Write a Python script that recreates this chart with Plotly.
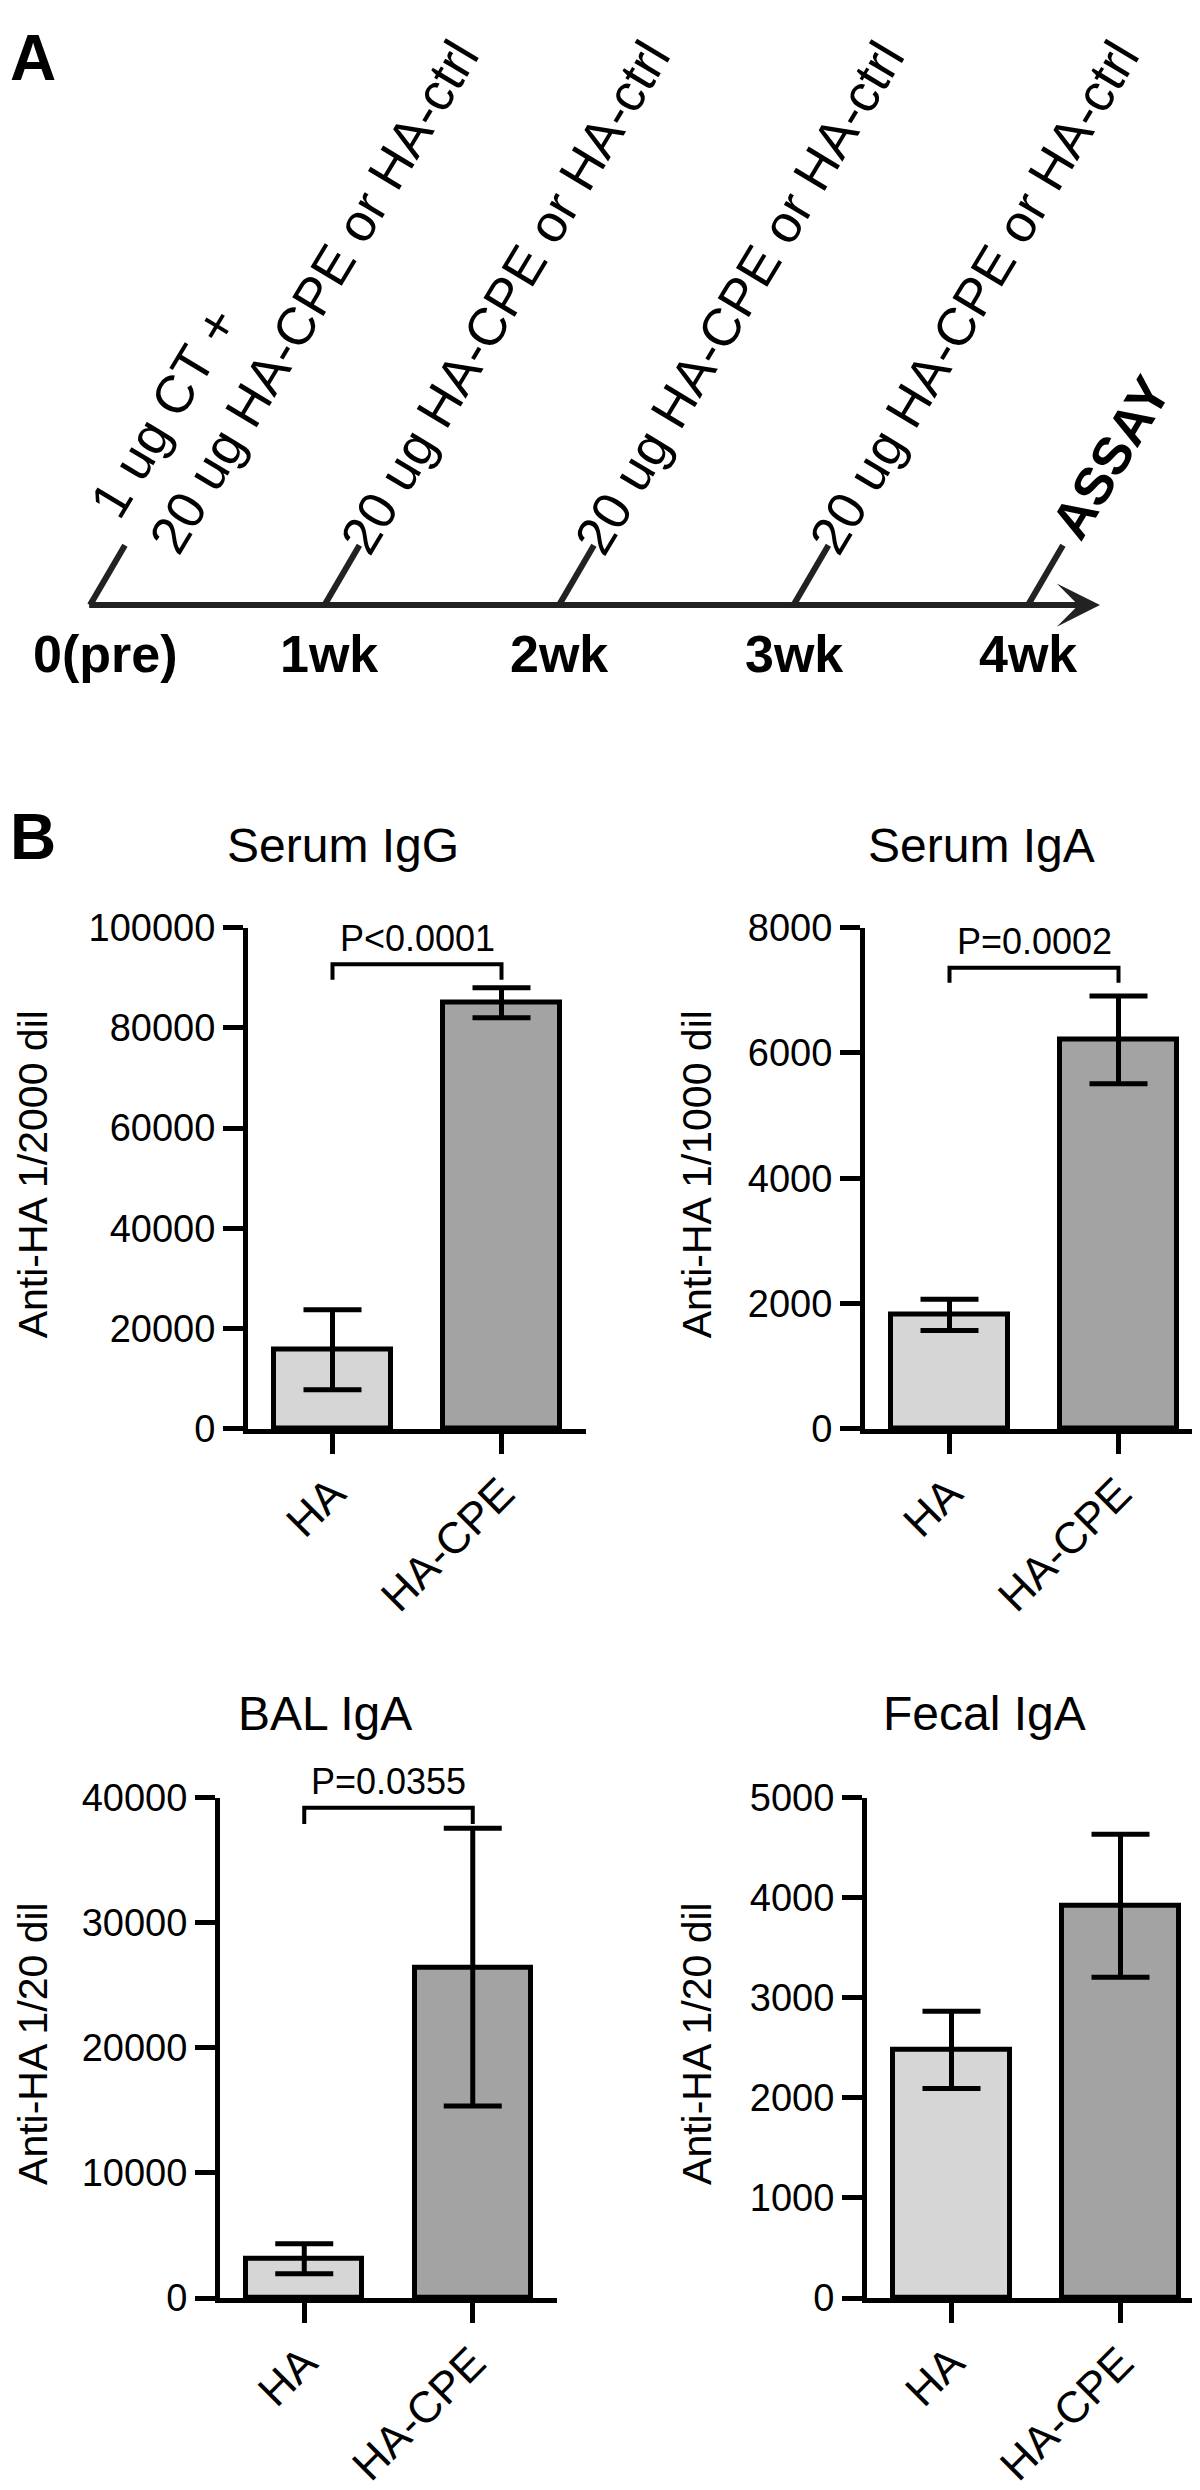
import plotly.graph_objects as go

W, H = 1200, 2490
FONT = "Liberation Sans, Arial, sans-serif"
NARROW = "Liberation Sans Narrow, Arial Narrow, Liberation Sans, Arial, sans-serif"

# ---- panel A: immunisation schedule ----
weeks = ["0(pre)", "1wk", "2wk", "3wk", "4wk"]
doses = ["1 ug CT +<br>20 ug HA-CPE or HA-ctrl",
         "20 ug HA-CPE or HA-ctrl",
         "20 ug HA-CPE or HA-ctrl",
         "20 ug HA-CPE or HA-ctrl",
         "<b>ASSAY</b>"]

# ---- panel B: anti-HA titres (mean, SEM) ----
groups = ["HA", "HA-CPE"]
serum_igg = [15800, 85000]
serum_igg_err = [8000, 3000]
serum_iga = [1820, 6210]
serum_iga_err = [250, 700]
bal_iga = [3150, 26450]
bal_iga_err = [1200, 11100]
fecal_iga = [2480, 3920]
fecal_iga_err = [385, 715]
p_values = ["P<0.0001", "P=0.0002", "P=0.0355", None]
bracket_top = [92700, 7360, 39200, None]
bracket_leg = [89600, 7120, 37900, None]

bar_colors = ["#d6d6d6", "#a3a3a3"]


def fx(px):
    return px / W


def fy(py):
    return 1 - py / H


fig = go.Figure()
annotations = []

# timeline axis (x = week, y = pixels above the line)
AXIS_Y = 586
STEP = 234.5
X0 = 82
fig.update_layout(
    xaxis5=dict(domain=[0, 1], range=[-X0 / STEP, (W - X0) / STEP], visible=False, anchor="y5"),
    yaxis5=dict(domain=[fy(720), 1], range=[-(720 - AXIS_Y), AXIS_Y], visible=False, anchor="x5"),
)

wk = list(range(len(weeks)))
tick_x, tick_y = [], []
for w in wk:
    tick_x += [w, w + 0.149, None]
    tick_y += [0, 61, None]
fig.add_trace(go.Scatter(x=tick_x, y=tick_y, mode="lines", xaxis="x5", yaxis="y5",
                         line=dict(color="#222222", width=6), showlegend=False, hoverinfo="skip"))

# main arrow
annotations.append(dict(x=wk[-1] + 0.307, y=0, ax=wk[0] - 0.01, ay=0, xref="x5", yref="y5",
                        axref="x5", ayref="y5", showarrow=True, arrowhead=3, arrowsize=1.2,
                        arrowwidth=6, arrowcolor="#222222", text=""))

label_shift = [0.065, 0.02, 0, 0, 0]
for w, lab, s in zip(wk, weeks, label_shift):
    annotations.append(dict(x=w + s, y=-50, xref="x5", yref="y5", text="<b>%s</b>" % lab,
                            showarrow=False, xanchor="center", yanchor="middle",
                            font=dict(family=NARROW, size=52, color="black")))

dose_dx = [0.827, 0.768, 0.768, 0.768, 0.352]
dose_dy = [332, 313, 313, 313, 150]
for w, txt, dx, dy in zip(wk, doses, dose_dx, dose_dy):
    annotations.append(dict(x=w + dx, y=dy, xref="x5", yref="y5", text=txt, showarrow=False,
                            textangle=-59, align="left", xanchor="center", yanchor="middle",
                            font=dict(family=FONT, size=53, color="black")))

# ---- panel B bar charts ----
panels = [
    dict(title="Serum IgG", ytitle="Anti-HA 1/2000 dil", mean=serum_igg, err=serum_igg_err,
         ymax=100000, dtick=20000, xd=(240, 578), yd=(914, 1424), tpos=(335, 831), ytx=0),
    dict(title="Serum IgA", ytitle="Anti-HA 1/1000 dil", mean=serum_iga, err=serum_iga_err,
         ymax=8000, dtick=2000, xd=(857, 1195), yd=(914, 1424), tpos=(973, 831), ytx=664),
    dict(title="BAL IgA", ytitle="Anti-HA 1/20 dil", mean=bal_iga, err=bal_iga_err,
         ymax=40000, dtick=10000, xd=(212, 549), yd=(1799, 2308), tpos=(317, 1713), ytx=0),
    dict(title="Fecal IgA", ytitle="Anti-HA 1/20 dil", mean=fecal_iga, err=fecal_iga_err,
         ymax=5000, dtick=1000, xd=(859, 1197), yd=(1799, 2308), tpos=(976, 1713), ytx=664),
]

gx = list(range(len(groups)))
for i, p in enumerate(panels):
    n = "" if i == 0 else str(i + 1)
    xa, ya = "x" + n, "y" + n
    fig.add_trace(go.Bar(
        x=gx, y=p["mean"], width=0.69, xaxis=xa, yaxis=ya, showlegend=False,
        marker=dict(color=bar_colors, line=dict(color="black", width=5)),
        error_y=dict(type="data", array=p["err"], visible=True, thickness=5, width=29, color="black"),
    ))
    if p_values[i]:
        fig.add_trace(go.Scatter(
            x=[gx[0], gx[0], gx[1], gx[1]],
            y=[bracket_leg[i], bracket_top[i], bracket_top[i], bracket_leg[i]],
            mode="lines", line=dict(color="black", width=4), xaxis=xa, yaxis=ya,
            showlegend=False, hoverinfo="skip"))
        annotations.append(dict(x=(gx[0] + gx[1]) / 2, y=bracket_top[i], xref=xa, yref=ya,
                                text=p_values[i], showarrow=False, yanchor="middle", yshift=26,
                                font=dict(family=FONT, size=36, color="black")))
    fig.update_layout(**{
        "xaxis" + n: dict(domain=[fx(p["xd"][0]), fx(p["xd"][1])], range=[-0.5, 1.5], anchor=ya,
                          tickmode="array", tickvals=gx, ticktext=groups, tickangle=-45,
                          ticks="outside", ticklen=20, tickwidth=5, tickcolor="black",
                          ticklabelstandoff=-4,
                          showline=True, linewidth=5, linecolor="black", showgrid=False,
                          zeroline=False, tickfont=dict(family=FONT, size=44, color="black")),
        "yaxis" + n: dict(domain=[fy(p["yd"][1]), fy(p["yd"][0])], range=[0, p["ymax"]], anchor=xa,
                          tick0=0, dtick=p["dtick"], tickformat="d", ticks="outside", ticklen=20,
                          tickwidth=5, tickcolor="black", showline=True, linewidth=5,
                          linecolor="black", showgrid=False, zeroline=False,
                          tickfont=dict(family=FONT, size=38, color="black")),
    })
    annotations.append(dict(x=fx(p["tpos"][0]), y=fy(p["tpos"][1]), xref="paper", yref="paper",
                            text=p["title"], showarrow=False, xanchor="center", yanchor="middle",
                            font=dict(family=FONT, size=48, color="black")))
    yc = (p["yd"][0] + p["yd"][1]) / 2 - 4
    annotations.append(dict(x=fx(p["ytx"]), y=fy(yc), xref="paper", yref="paper",
                            text=p["ytitle"], showarrow=False, textangle=-90,
                            xanchor="left", yanchor="middle",
                            font=dict(family=FONT, size=41, color="black")))

# panel letters
for letter, (lx, ly) in zip(["A", "B"], [(25, 30), (25, 822)]):
    annotations.append(dict(x=fx(lx), y=fy(ly), xref="paper", yref="paper", text="<b>%s</b>" % letter,
                            showarrow=False, xanchor="center", yanchor="middle",
                            font=dict(family=FONT, size=64, color="black")))

fig.update_layout(
    width=W, height=H, margin=dict(l=0, r=0, t=0, b=0),
    paper_bgcolor="white", plot_bgcolor="white",
    bargap=0, annotations=annotations,
)

fig.write_html("out.html")
